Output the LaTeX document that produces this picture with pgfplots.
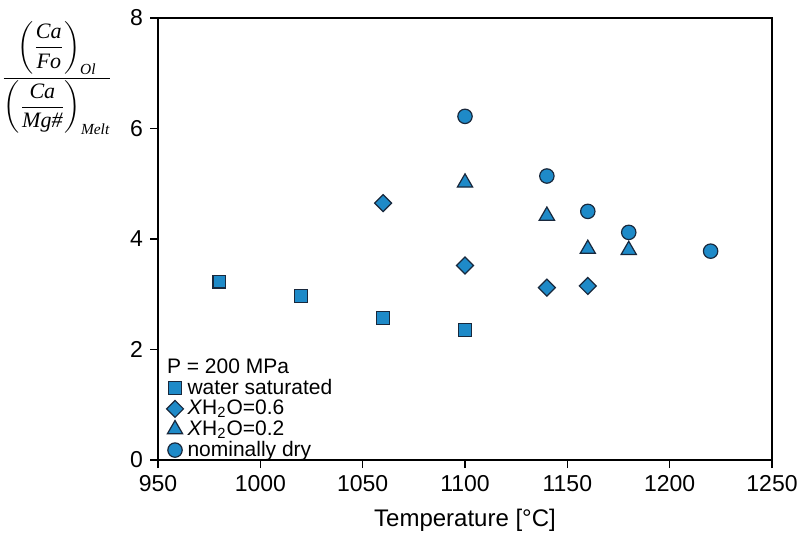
\documentclass[border=0pt]{standalone}
\usepackage{amsmath}
\usepackage{fontspec}
\setmainfont{Liberation Sans}
\newfontfamily\tnr{Liberation Serif}
\usepackage{pgfplots}
\pgfplotsset{compat=1.18}
\usetikzlibrary{calc}
\definecolor{mk}{RGB}{30,138,200}
\definecolor{ed}{RGB}{25,40,60}
\newcommand{\ti}[1]{\text{\tnr\itshape #1}}
\begin{document}
\begin{tikzpicture}
\begin{axis}[
  name=ax,
  scale only axis,
  width=307pt, height=221pt,
  xmin=950, xmax=1250, ymin=0, ymax=8,
  xtick={950,1000,...,1250}, ytick={0,2,...,8},
  minor tick num=0,
  tick align=outside,
  tick pos=left,
  major tick length=4pt,
  axis line style={line width=1pt},
  every tick/.style={line width=0.8pt, black},
  /pgf/number format/assume math mode=true,
  /pgf/number format/1000 sep={},
  tick label style={font=\fontsize{11.5}{13}\selectfont},
  xlabel={Temperature [°C]},
  xlabel style={font=\fontsize{12}{14}\selectfont, yshift=-2pt},
  legend style={draw=none, fill=none, at={(0.01,0.01)}, anchor=south west, yshift=-5pt,
    font=\fontsize{10.5}{12}\selectfont, row sep=-2.6pt, inner sep=1pt},
  legend cell align=left,
  legend image code/.code={\draw[#1] (0.1cm,0cm) plot coordinates {(0.1cm,0cm)};},
]
\addlegendimage{empty legend}
\addlegendentry{\hspace{-0.36cm}P = 200 MPa}
\addplot[only marks, mark=square*, mark size=3.2pt, mark options={fill=mk, draw=ed, line width=0.6pt}] coordinates {(980,3.23) (1020,2.97) (1060,2.57) (1100,2.35)};
\addlegendentry{water saturated}
\addplot[only marks, mark=square*, mark size=3pt, mark options={rotate=45, fill=mk, draw=ed, line width=0.6pt}] coordinates {(1060,4.65) (1100,3.52) (1140,3.12) (1160,3.15)};
\addlegendentry{\textit{X}H\textsubscript{2}O=0.6}
\addplot[only marks, mark=triangle*, mark size=4.4pt, mark options={fill=mk, draw=ed, line width=0.6pt}] coordinates {(1100,5.02) (1140,4.42) (1160,3.82) (1180,3.80)};
\addlegendentry{\textit{X}H\textsubscript{2}O=0.2}
\addplot[only marks, mark=*, mark size=3.6pt, mark options={fill=mk, draw=ed, line width=0.6pt}] coordinates {(1100,6.22) (1140,5.14) (1160,4.50) (1180,4.12) (1220,3.78)};
\addlegendentry{nominally dry}
\end{axis}
\node[inner sep=0pt] at ($(ax.north west)+(-50.5pt,-30pt)$) {\fontsize{11}{13}\selectfont$\displaystyle\frac{\left(\dfrac{\ti{Ca}}{\ti{Fo}}\right)_{\ti{Ol}}}{\left(\dfrac{\ti{Ca}}{\ti{Mg\#}}\right)_{\ti{Melt}}}$};
\pgfresetboundingbox
\path[use as bounding box] ($(ax.south west)+(-79pt,-37.5pt)$) rectangle ($(ax.north east)+(14pt,9pt)$);
\end{tikzpicture}
\end{document}
